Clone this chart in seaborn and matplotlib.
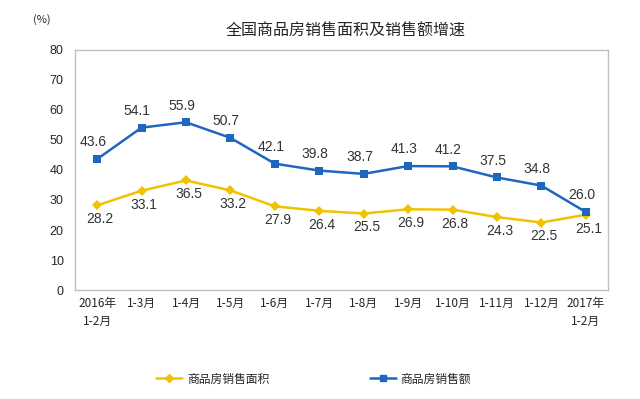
import matplotlib
matplotlib.use('Agg')
import matplotlib.pyplot as plt
import pandas as pd
import seaborn as sns

# data
periods = ['2016年\n1-2月', '1-3月', '1-4月', '1-5月', '1-6月', '1-7月', '1-8月',
           '1-9月', '1-10月', '1-11月', '1-12月', '2017年\n1-2月']
area_growth = [28.2, 33.1, 36.5, 33.2, 27.9, 26.4, 25.5, 26.9, 26.8, 24.3, 22.5, 25.1]
sales_growth = [43.6, 54.1, 55.9, 50.7, 42.1, 39.8, 38.7, 41.3, 41.2, 37.5, 34.8, 26.0]
series_names = ['商品房销售面积', '商品房销售额']

sns.set_style('white')
plt.rcParams['font.family'] = ['Noto Sans CJK SC', 'DejaVu Sans']

df = pd.DataFrame({
    'pos': list(range(len(periods))) * 2,
    'value': area_growth + sales_growth,
    'series': [series_names[0]] * len(periods) + [series_names[1]] * len(periods),
})

yellow = '#F2C200'
blue = '#1F66BE'

fig = plt.figure(figsize=(6.4, 3.99), dpi=100)
ax = fig.add_axes([0.117, 0.273, 0.833, 0.602])

sns.lineplot(data=df, x='pos', y='value', hue='series', style='series',
             palette=[yellow, blue], markers=['D', 's'], dashes=False,
             markersize=5.5, linewidth=1.8, markeredgewidth=0, ax=ax, legend=False)

# data labels
for i, v in enumerate(sales_growth):
    ax.annotate(f'{v:.1f}', (i, v), xytext=(-3, 7), textcoords='offset points',
                ha='center', va='bottom', fontsize=10, color='#333333',
                family=['Liberation Sans', 'DejaVu Sans'])
for i, v in enumerate(area_growth):
    ax.annotate(f'{v:.1f}', (i, v), xytext=(2, -5), textcoords='offset points',
                ha='center', va='top', fontsize=10, color='#333333',
                family=['Liberation Sans', 'DejaVu Sans'])

ax.set_xlim(-0.5, len(periods) - 0.5)
ax.set_ylim(0, 80)
ax.set_yticks(range(0, 81, 10))
ax.set_xticks(range(len(periods)))
ax.set_xticklabels(periods, fontsize=8.5, linespacing=1.5)
ax.set_xticks([i + 0.5 for i in range(len(periods) - 1)], minor=True)
ax.tick_params(axis='x', which='major', length=0, pad=5)
ax.tick_params(axis='x', which='minor', length=4, direction='in', color='#BFBFBF')
ax.tick_params(axis='y', length=3, direction='in', color='#BFBFBF', labelsize=9, pad=8)
for lbl in ax.get_yticklabels():
    lbl.set_family(['Liberation Sans Narrow', 'Liberation Sans', 'DejaVu Sans'])
ax.set_xlabel('')
ax.set_ylabel('')
for sp in ax.spines.values():
    sp.set_color('#BFBFBF')
    sp.set_linewidth(1)

fig.text(0.54, 0.922, '全国商品房销售面积及销售额增速', ha='center', va='center', fontsize=11.5)
fig.text(0.065, 0.95, '(%)', ha='center', va='center', fontsize=8)

handles = [plt.Line2D([], [], color=yellow, marker='D', markersize=4, lw=1.8),
           plt.Line2D([], [], color=blue, marker='s', markersize=4, lw=1.8)]
fig.legend(handles, series_names, loc='center', bbox_to_anchor=(0.49, 0.05), ncol=2,
           frameon=False, fontsize=8.5, columnspacing=8.5, handlelength=2.2, handletextpad=0.4)

fig.savefig('out.png', dpi=100)
